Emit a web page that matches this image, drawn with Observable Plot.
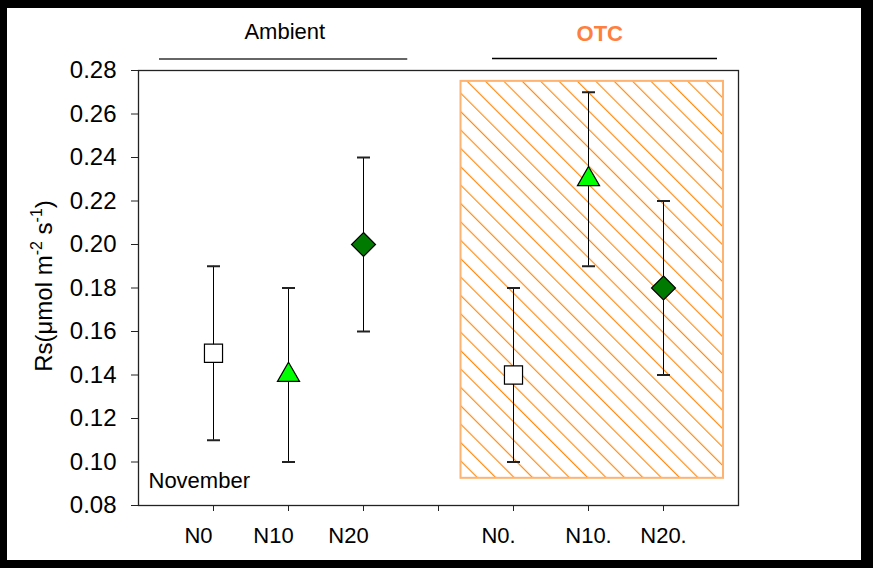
<!DOCTYPE html>
<html><head><meta charset="utf-8">
<script src="https://cdn.jsdelivr.net/npm/d3@7"></script>
<script src="https://cdn.jsdelivr.net/npm/@observablehq/plot@0.6"></script>
<style>
html,body{margin:0;padding:0;background:#000;width:873px;height:568px;overflow:hidden}
#chart{position:absolute;left:7px;top:8px;width:854px;height:552px;background:#fff}
#chart svg{display:block;background:#fff}
</style></head><body><div id="chart"></div>
<script>
// ---- data ----
const treatments = ["N0", "N10", "N20", "N0.", "N10.", "N20."];
const groups = ["Ambient", "Ambient", "Ambient", "OTC", "OTC", "OTC"];
const slots = [1, 2, 3, 5, 6, 7];
const means = [0.15, 0.14, 0.20, 0.14, 0.23, 0.18];
const errs = [0.04, 0.04, 0.04, 0.04, 0.04, 0.04];
const shapes = ["square", "triangle", "diamond", "square", "triangle", "diamond"];
const tickSlots = [1, 2, 3, 4, 5, 6, 7];
const tickLabels = ["N0", "N10", "N20", "", "N0.", "N10.", "N20."];
const yTicks = [0.08, 0.10, 0.12, 0.14, 0.16, 0.18, 0.20, 0.22, 0.24, 0.26, 0.28];
const otcBox = [{x1: 4.3, x2: 7.8, y1: 0.0925, y2: 0.275}];
const headers = ["Ambient", "OTC"];

const rows = treatments.map((t, i) => ({
  t, g: groups[i], x: slots[i], y: means[i], lo: means[i] - errs[i], hi: means[i] + errs[i], shape: shapes[i]
}));

const cap = {draw(c) { c.moveTo(-6.5, 0); c.lineTo(6.5, 0); }};
const labelOf = d => tickLabels[tickSlots.indexOf(d)];

const plot = Plot.plot({
  width: 854, height: 552,
  marginLeft: 131, marginRight: 123, marginTop: 62, marginBottom: 55,
  style: {fontFamily: "'Liberation Sans', Arial, sans-serif", background: "#fff", color: "#000"},
  x: {domain: [0, 8]},
  y: {domain: [0.08, 0.28]},
  marks: [
    Plot.rect(otcBox, {x1: "x1", x2: "x2", y1: "y1", y2: "y2", fill: "url(#otc-hatch)", stroke: "#ffb370", strokeWidth: 2}),
    Plot.ruleX(rows, {x: "x", y1: "lo", y2: "hi", stroke: "#000", strokeWidth: 1}),
    Plot.dot(rows, {x: "x", y: "lo", symbol: cap, r: 4, stroke: "#222", strokeWidth: 2}),
    Plot.dot(rows, {x: "x", y: "hi", symbol: cap, r: 4, stroke: "#222", strokeWidth: 2}),
    Plot.dot(rows.filter(d => d.shape === "square"), {x: "x", y: "y", symbol: "square", r: 10.2, fill: "#fff", stroke: "#000", strokeWidth: 1.2}),
    Plot.dot(rows.filter(d => d.shape === "triangle"), {x: "x", y: "y", symbol: "triangle", r: 8.2, fill: "#00ff00", stroke: "#000", strokeWidth: 1.2}),
    Plot.dot(rows.filter(d => d.shape === "diamond"), {x: "x", y: "y", symbol: "diamond2", r: 10.8, fill: "#007a00", stroke: "#000", strokeWidth: 1.2}),
    Plot.frame({stroke: "#222", strokeWidth: 1.3}),
    Plot.axisY({ticks: yTicks, tickFormat: d3.format(".2f"), tickSize: 7, tickPadding: 15, fontSize: 24, label: null, stroke: "#222"}),
    Plot.axisX({ticks: tickSlots, tickFormat: null, text: null, tickSize: 6, label: null, stroke: "#222"}),
    Plot.axisX({ticks: [1, 2, 3, 5], tickSize: 0, tickPadding: 22, tickFormat: labelOf, fontSize: 22, dx: -15, label: null}),
    Plot.axisX({ticks: [6, 7], tickSize: 0, tickPadding: 22, tickFormat: labelOf, fontSize: 22, label: null}),
    Plot.text(["November"], {frameAnchor: "bottom-left", text: d => d, textAnchor: "start", lineAnchor: "bottom", dx: 10, dy: -18, fontSize: 22, fill: "#000"}),
    Plot.text([headers[0]], {x: 1.95, frameAnchor: "top", text: d => d, lineAnchor: "bottom", dy: -32, fontSize: 22, fill: "#000"}),
    Plot.text([headers[1]], {x: 6.15, frameAnchor: "top", text: d => d, lineAnchor: "bottom", dy: -30, fontSize: 22, fontWeight: "bold", fill: "#ff7f3f"}),
    Plot.ruleY([0.2853], {x1: 0.28, x2: 3.59, stroke: "#666", strokeWidth: 2}),
    Plot.ruleY([0.2855], {x1: 4.72, x2: 7.72, stroke: "#000", strokeWidth: 1.5})
  ]
});

const svg = d3.select(plot);
const defs = svg.insert("defs", ":first-child");
const pat = defs.append("pattern")
  .attr("id", "otc-hatch").attr("patternUnits", "userSpaceOnUse")
  .attr("width", 13).attr("height", 13)
  .attr("patternTransform", "rotate(-45)");
pat.append("rect").attr("width", 13).attr("height", 13).attr("fill", "#fff");
pat.append("line").attr("x1", 0.5).attr("y1", 0).attr("x2", 0.5).attr("y2", 13)
  .attr("stroke", "#ff8a10").attr("stroke-width", 1.3);

// y-axis title with superscripts
const yl = svg.append("text")
  .attr("transform", "translate(45,278) rotate(-90)")
  .attr("text-anchor", "middle")
  .attr("font-size", 24).attr("fill", "#000")
  .attr("font-family", "'Liberation Sans', Arial, sans-serif");
yl.append("tspan").text("Rs(μmol m");
yl.append("tspan").attr("dy", -10).attr("font-size", 16).text("-2");
yl.append("tspan").attr("dy", 10).text(" s");
yl.append("tspan").attr("dy", -10).attr("font-size", 16).text("-1");
yl.append("tspan").attr("dy", 10).text(")");

document.getElementById("chart").appendChild(plot);
</script>
</body></html>
